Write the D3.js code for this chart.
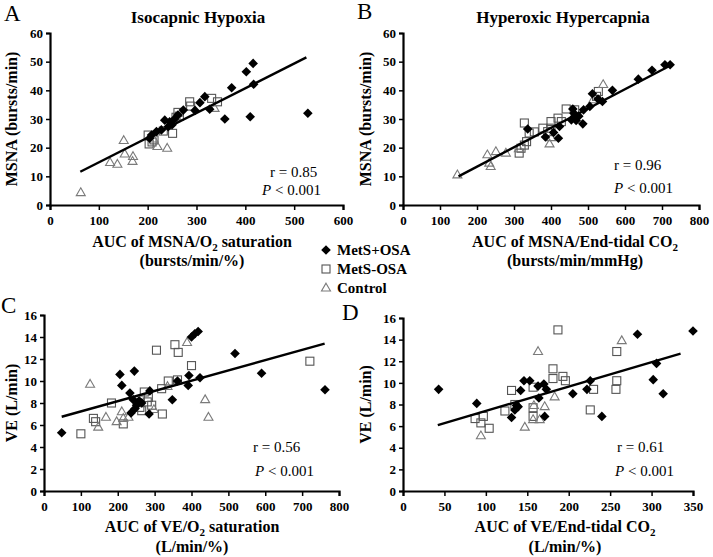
<!DOCTYPE html>
<html><head><meta charset="utf-8">
<script src="https://cdn.jsdelivr.net/npm/d3@7"></script>
<style>
body{margin:0;background:#fff}
svg text{font-family:"Liberation Serif","Times New Roman",serif}
</style></head>
<body><svg id="c" width="713" height="557"></svg>
<script>
// ---------- DATA ----------
const panelLetters = ["A","B","C","D"];
const panelTitles = ["Isocapnic Hypoxia","Hyperoxic Hypercapnia","",""];
const legendLabels = ["MetS+OSA","MetS-OSA","Control"];

// Panel A: AUC of MSNA/O2 saturation vs MSNA
const aXTicks = [0,100,200,300,400,500,600];
const aYTicks = [0,10,20,30,40,50,60];
const aMetSOSA = [[416,49.4],[402,46.5],[417,42.1],[372,40.9],[528,32],[410,30.8],[358,30],[317,37.8],[307,35.7],[327,33.4],[297,33],[273,33.1],[262,31.4],[245,29],[235,29.6],[242,27.3],[250,28],[228,26.2],[218,25.6],[208,24.4],[204,23.3],[255,30]];
const aMetSnoOSA = [[286,36],[288,34.5],[331,37.2],[343,36],[262,32.3],[258,30.6],[232,25.8],[251,25],[201,24.4],[203,21.3],[213,22.7],[209,22],[265,31]];
const aControl = [[63,4.3],[151,22.5],[153,17.8],[123,14.8],[138,14.2],[170,16.9],[169,15.2],[220,20.4],[240,19.8],[337,33.7],[212,23]];
const aFit = [[62,11.6],[525,51.5]];

// Panel B: AUC of MSNA/End-tidal CO2 vs MSNA
const bXTicks = [0,100,200,300,400,500,600,700,800];
const bYTicks = [0,10,20,30,40,50,60];
const bMetSOSA = [[708,48.9],[722,48.9],[673,47],[636,43.9],[566,40],[539,36.1],[527,37],[512,38.8],[505,34.4],[488,33.2],[486,28.3],[459,33.5],[464,30.9],[455,29.7],[468,29.5],[462,32],[423,27.4],[420,23.3],[407,25.3],[385,23.7],[337,26.5],[475,31]];
const bMetSnoOSA = [[328,28.6],[341,25.1],[334,22.1],[328,20.9],[314,18.1],[319,19.8],[400,29.1],[400,26.8],[419,30.3],[428,29.1],[441,33.5],[464,33.2],[528,39.6],[523,37.9],[378,26.8],[391,25.6],[355,25.5]];
const bControl = [[147,10.5],[228,17.5],[251,18.6],[233,14.6],[237,13.4],[278,18.1],[396,21.3],[541,42],[514,36.7],[313,19.6],[400,23.5]];
const bFit = [[150,10],[720,48.5]];

// Panel C: AUC of VE/O2 saturation vs VE
const cXTicks = [0,100,200,300,400,500,600,700,800];
const cYTicks = [0,2,4,6,8,10,12,14,16];
const cMetSOSA = [[48,5.3],[206,10.6],[211,9.6],[245,10.9],[233,8.9],[242,8.3],[251,7.8],[247,7.5],[236,7.1],[258,8.2],[287,9.1],[285,7.0],[348,8.3],[362,10.0],[393,10.5],[391,9.6],[423,10.3],[400,14.0],[409,14.3],[418,14.5],[518,12.5],[590,10.7],[762,9.2],[265,8.0]];
const cMetSnoOSA = [[100,5.2],[134,6.6],[140,6.3],[183,8.0],[305,12.8],[355,13.3],[364,12.6],[400,11.4],[362,10.1],[337,10.0],[319,9.3],[272,9.0],[283,8.5],[260,7.6],[215,6.1],[321,7.0],[292,7.8],[721,11.8],[280,8.1],[265,7.3]];
const cControl = [[125,9.7],[168,6.7],[147,5.8],[197,6.3],[211,7.2],[229,6.7],[298,7.4],[335,9.5],[388,13.5],[437,8.3],[446,6.7],[215,6.6]];
const cFit = [[48,6.75],[761,13.4]];

// Panel D: AUC of VE/End-tidal CO2 vs VE
const dXTicks = [0,50,100,150,200,250,300,350];
const dYTicks = [0,2,4,6,8,10,12,14,16];
const dMetSOSA = [[43,9.4],[89,8.1],[131,6.8],[142,9.3],[146,10.2],[153,10.2],[139,7.8],[135,7.5],[137,7.9],[163,9.7],[170,9.9],[173,9.4],[164,8.6],[171,6.9],[205,9.0],[222,9.4],[226,10.2],[240,6.9],[283,14.5],[306,11.8],[302,10.3],[314,9.0],[350,14.8]];
const dMetSnoOSA = [[131,9.3],[87,6.7],[97,6.9],[94,6.3],[104,5.8],[123,7.4],[135,8.0],[157,7.7],[157,6.9],[181,11.3],[181,10.4],[193,10.6],[196,10.2],[230,9.4],[258,12.9],[258,10.2],[257,9.4],[226,7.5],[187,14.9],[157,9.6]];
const dControl = [[94,5.1],[147,5.9],[163,12.9],[171,7.8],[165,6.6],[157,6.6],[183,8.7],[264,13.9],[158,7.9]];
const dFit = [[42,6.1],[335,12.7]];

const rTexts = ["r = 0.85","r = 0.96","r = 0.56","r = 0.61"];
const pTexts = ["< 0.001","< 0.001","< 0.001","< 0.001"];

// ---------- LAYOUT ----------
const svg = d3.select("#c");
const panels = [
 {xr:[50,343], yr:[205,33], xd:[0,600], yd:[0,60], xt:aXTicks, yt:aYTicks, s:[aMetSOSA,aMetSnoOSA,aControl], fit:aFit,
  ylab:"MSNA (bursts/min)", xlab:["AUC of MSNA/O","2"," saturation"], xlab2:"(bursts/min/%)",
  letter:[4,21], title:[198,23], r:[270,177], p:[262,195], ylx:17, xlc:192, xlb:[247,266]},
 {xr:[403,699], yr:[205,33], xd:[0,800], yd:[0,60], xt:bXTicks, yt:bYTicks, s:[bMetSOSA,bMetSnoOSA,bControl], fit:bFit,
  ylab:"MSNA (bursts/min)", xlab:["AUC of MSNA/End-tidal CO","2",""], xlab2:"(bursts/min/mmHg)",
  letter:[357,19], title:[563,23], r:[614,170], p:[614,193], ylx:371, xlc:575, xlb:[247,266]},
 {xr:[44,339], yr:[491,315], xd:[0,800], yd:[0,16], xt:cXTicks, yt:cYTicks, s:[cMetSOSA,cMetSnoOSA,cControl], fit:cFit,
  ylab:"VE (L/min)", xlab:["AUC of VE/O","2"," saturation"], xlab2:"(L/min/%)",
  letter:[1,313], title:[0,0], r:[253,452], p:[255,476], ylx:17, xlc:192, xlb:[532,552]},
 {xr:[403,693], yr:[491,318], xd:[0,350], yd:[0,16], xt:dXTicks, yt:dYTicks, s:[dMetSOSA,dMetSnoOSA,dControl], fit:dFit,
  ylab:"VE (L/min)", xlab:["AUC of VE/End-tidal CO","2",""], xlab2:"(L/min/%)",
  letter:[342,320], title:[0,0], r:[617,452], p:[615,476], ylx:371, xlc:565, xlb:[532,552]}
];

function drawMarker(g, type, x, y){
  if(type===0){
    const h=4.8;
    g.append("path").attr("d",`M${x},${y-h}L${x+h},${y}L${x},${y+h}L${x-h},${y}Z`).attr("fill","#000");
  } else if(type===1){
    const s=8;
    g.append("rect").attr("x",x-s/2).attr("y",y-s/2).attr("width",s).attr("height",s)
      .attr("fill","none").attr("stroke","#555").attr("stroke-width",1.1);
  } else {
    const s=9, h=s*0.866;
    g.append("path").attr("d",`M${x},${y-h*0.62}L${x+s/2},${y+h*0.38}L${x-s/2},${y+h*0.38}Z`)
      .attr("fill","none").attr("stroke","#7a7a7a").attr("stroke-width",1.1);
  }
}

panels.forEach((P,i)=>{
  const x = d3.scaleLinear().domain(P.xd).range(P.xr);
  const y = d3.scaleLinear().domain(P.yd).range(P.yr);
  const g = svg.append("g");

  const xa = g.append("g").attr("transform",`translate(0,${P.yr[0]})`)
    .call(d3.axisBottom(x).tickValues(P.xt).tickSize(5).tickPadding(6).tickFormat(d3.format("d")));
  const ya = g.append("g").attr("transform",`translate(${P.xr[0]},0)`)
    .call(d3.axisLeft(y).tickValues(P.yt).tickSize(4).tickPadding(3).tickFormat(d3.format("d")));
  [xa,ya].forEach(a=>{
    a.select(".domain").attr("stroke","#000").attr("stroke-width",2.2);
    a.selectAll(".tick line").attr("stroke","#000").attr("stroke-width",1.5);
    a.selectAll(".tick text").attr("font-size",13).attr("font-weight","bold").attr("fill","#000")
      .attr("font-family","Liberation Serif, serif");
  });

  const mg = g.append("g");
  [1,2,0].forEach(t=>{
    P.s[t].forEach(d=>drawMarker(mg,t,x(d[0]),y(d[1])));
  });

  // fit line
  g.append("line").attr("x1",x(P.fit[0][0])).attr("y1",y(P.fit[0][1]))
    .attr("x2",x(P.fit[1][0])).attr("y2",y(P.fit[1][1]))
    .attr("stroke","#000").attr("stroke-width",2.4);

  // letter
  g.append("text").attr("x",P.letter[0]).attr("y",P.letter[1]).text(panelLetters[i])
    .attr("font-size",23).attr("fill","#000");
  if(panelTitles[i]) g.append("text").attr("x",P.title[0]).attr("y",P.title[1]).attr("text-anchor","middle")
    .attr("font-size",17).attr("font-weight","bold").text(panelTitles[i]);

  // y label
  const cy = (P.yr[0]+P.yr[1])/2;
  g.append("text").attr("transform",`translate(${P.ylx},${cy}) rotate(-90)`).attr("text-anchor","middle")
    .attr("font-size",16).attr("font-weight","bold").text(P.ylab);

  // x label
  const t1 = g.append("text").attr("x",P.xlc).attr("y",P.xlb[0]).attr("text-anchor","middle")
    .attr("font-size",16).attr("font-weight","bold");
  t1.append("tspan").text(P.xlab[0]);
  t1.append("tspan").text(P.xlab[1]).attr("font-size",11).attr("dy",4);
  if(P.xlab[2]) t1.append("tspan").text(P.xlab[2]).attr("dy",-4);
  g.append("text").attr("x",P.xlc).attr("y",P.xlb[1]).attr("text-anchor","middle")
    .attr("font-size",16).attr("font-weight","bold").text(P.xlab2);

  // stats
  g.append("text").attr("x",P.r[0]).attr("y",P.r[1]).attr("font-size",15).text(rTexts[i]);
  const pt = g.append("text").attr("x",P.p[0]).attr("y",P.p[1]).attr("font-size",15);
  pt.append("tspan").attr("font-style","italic").text("P");
  pt.append("tspan").text(" " + pTexts[i]);
});

// legend
const lg = svg.append("g");
legendLabels.forEach((l,k)=>{
  const yy = 250 + k*19;
  drawMarker(lg,k,326,yy);
  lg.append("text").attr("x",337).attr("y",yy+5).attr("font-size",15).attr("font-weight","bold").text(l);
});
</script></body></html>
